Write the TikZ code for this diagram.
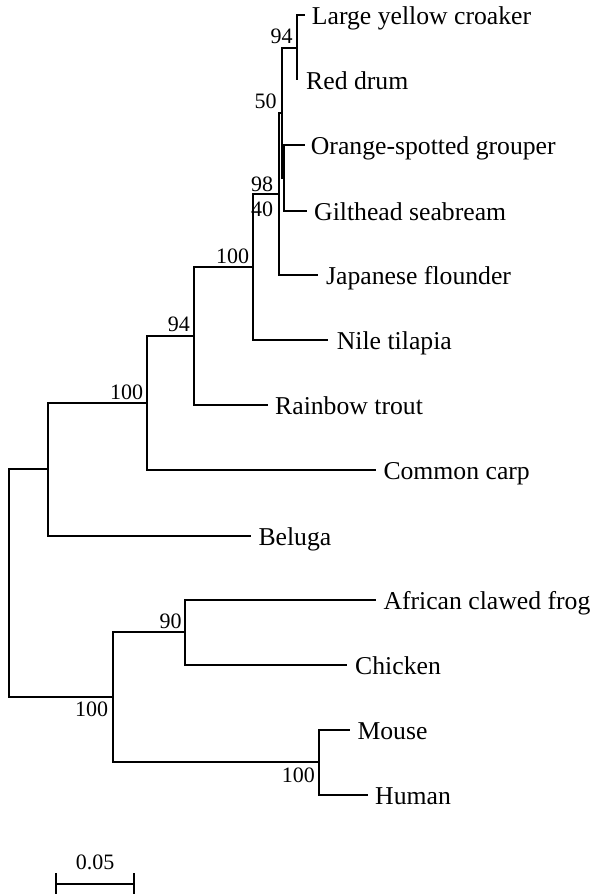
\documentclass[tikz,border=0pt]{standalone}
\usepackage{fontspec}
\setmainfont{Liberation Serif}
\begin{document}
\begin{tikzpicture}[x=1pt,y=-1pt,
  branch/.style={line width=2pt},
  leaf/.style={anchor=base west, inner sep=0pt, font=\fontsize{25.7}{30}\selectfont},
  boot/.style={anchor=base east, inner sep=0pt, font=\fontsize{22}{26}\selectfont}]
\useasboundingbox (0,0) rectangle (597,895);
% internal nodes
\coordinate (A) at (297,48);
\coordinate (B) at (284,178);
\coordinate (C) at (282,113);
\coordinate (D) at (279,194);
\coordinate (E) at (253,267);
\coordinate (F) at (194,336);
\coordinate (G) at (147,403);
\coordinate (H) at (48,469);
\coordinate (R) at (9,583);
\coordinate (I) at (113,697);
\coordinate (J) at (185,632);
\coordinate (K) at (319,762);
% leaf tips
\coordinate (lycT) at (305,15);
\coordinate (rdT) at (297,80);
\coordinate (osgT) at (305,145);
\coordinate (gsT) at (307,211);
\coordinate (jfT) at (318,275);
\coordinate (ntT) at (328,340);
\coordinate (rtT) at (268,405);
\coordinate (ccT) at (376,470);
\coordinate (belT) at (251,536);
\coordinate (afT) at (376,600);
\coordinate (chT) at (347,665);
\coordinate (moT) at (350,730);
\coordinate (huT) at (368,795);
% branches
\draw[branch] (A) |- (lycT);
\draw[branch] (A) |- (rdT);
\draw[branch] (B) |- (osgT);
\draw[branch] (B) |- (gsT);
\draw[branch] (C) |- (A);
\draw[branch] (C) |- (B);
\draw[branch] (D) |- (C);
\draw[branch] (D) |- (jfT);
\draw[branch] (E) |- (D);
\draw[branch] (E) |- (ntT);
\draw[branch] (F) |- (E);
\draw[branch] (F) |- (rtT);
\draw[branch] (G) |- (F);
\draw[branch] (G) |- (ccT);
\draw[branch] (H) |- (G);
\draw[branch] (H) |- (belT);
\draw[branch] (R) |- (H);
\draw[branch] (R) |- (I);
\draw[branch] (I) |- (J);
\draw[branch] (I) |- (K);
\draw[branch] (J) |- (afT);
\draw[branch] (J) |- (chT);
\draw[branch] (K) |- (moT);
\draw[branch] (K) |- (huT);
% leaf labels
\node[leaf] (lyc) at (311.7,24.5) {Large yellow croaker};
\node[leaf] (rd) at (306,89.5) {Red drum};
\node[leaf] (osg) at (310.7,154.5) {Orange-spotted grouper};
\node[leaf] (gs) at (314,220.2) {Gilthead seabream};
\node[leaf] (jf) at (326,284.5) {Japanese flounder};
\node[leaf] (nt) at (336.7,349.5) {Nile tilapia};
\node[leaf] (rt) at (275,414.5) {Rainbow trout};
\node[leaf] (cc) at (383.3,479.5) {Common carp};
\node[leaf] (bel) at (258.3,545.2) {Beluga};
\node[leaf] (af) at (383.3,609.5) {African clawed frog};
\node[leaf] (ch) at (355,674.5) {Chicken};
\node[leaf] (mo) at (357.3,739.5) {Mouse};
\node[leaf] (hu) at (375,804.5) {Human};
% bootstrap values
\node[boot] (bA) at (292.7,43.3) {94};
\node[boot] (bC) at (276.7,108.3) {50};
\node[boot] (bD) at (273.3,191.7) {98};
\node[boot] (bB) at (273.3,216.7) {40};
\node[boot] (bE) at (249.3,263.3) {100};
\node[boot] (bF) at (190,331.7) {94};
\node[boot] (bG) at (143.3,399.3) {100};
\node[boot] (bJ) at (181.7,628.3) {90};
\node[boot] (bI) at (108.3,716.7) {100};
\node[boot] (bK) at (315,782.7) {100};
% scale bar
\coordinate (s1) at (56,884);
\coordinate (s2) at (134,884);
\coordinate (s1t) at (56,873);
\coordinate (s1b) at (56,894);
\coordinate (s2t) at (134,873);
\coordinate (s2b) at (134,894);
\draw[branch] (s1) -- (s2);
\draw[branch] (s1t) -- (s1b);
\draw[branch] (s2t) -- (s2b);
\node[boot, anchor=base] (scl) at (95,869.3) {0.05};
\end{tikzpicture}
\end{document}
